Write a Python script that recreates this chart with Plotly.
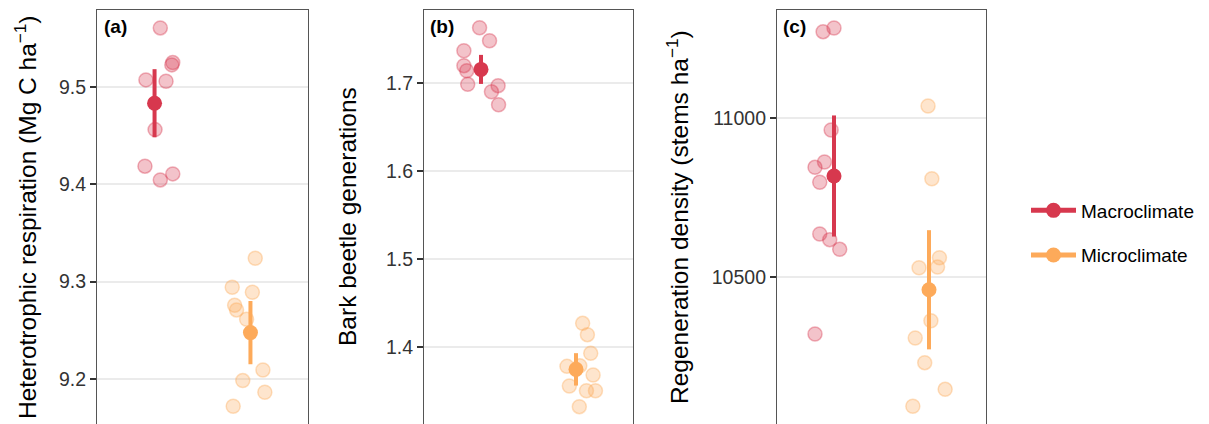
import plotly.graph_objects as go

# ---------------- data ----------------
groups = ["Macroclimate", "Microclimate"]
group_pos = [1, 2]
colors = {"Macroclimate": (215, 56, 78), "Microclimate": (253, 170, 90)}

panel_labels = ["(a)", "(b)", "(c)"]
y_titles = [
    "Heterotrophic respiration (Mg C ha<sup>−1</sup>)",
    "Bark beetle generations",
    "Regeneration density (stems ha<sup>−1</sup>)",
]

# panel (a) Heterotrophic respiration
a_macro_vals = [9.5606, 9.525, 9.5226, 9.5072, 9.5058, 9.4561, 9.4185, 9.4044, 9.4106]
a_macro_jit = [0.06, 0.19, 0.18, -0.09, 0.12, 0.005, -0.10, 0.06, 0.19]
a_micro_vals = [9.3239, 9.2941, 9.289, 9.2756, 9.2708, 9.2612, 9.2091, 9.1982, 9.1862, 9.1718]
a_micro_jit = [0.05, -0.19, 0.02, -0.165, -0.145, -0.04, 0.13, -0.08, 0.15, -0.18]
a_means = [9.4832, 9.2475]
a_err = [0.035, 0.0325]
a_ticks = [9.2, 9.3, 9.4, 9.5]

# panel (b) Bark beetle generations
b_macro_vals = [1.7628, 1.7481, 1.7367, 1.7197, 1.714, 1.6985, 1.697, 1.6901, 1.6753]
b_macro_jit = [-0.015, 0.09, -0.18, -0.18, -0.15, -0.14, 0.18, 0.11, 0.185]
b_micro_vals = [1.4269, 1.414, 1.3928, 1.378, 1.3788, 1.3682, 1.3557, 1.3503, 1.3503, 1.3322]
b_micro_jit = [0.07, 0.12, 0.155, -0.095, 0.04, 0.18, -0.07, 0.11, 0.205, 0.035]
b_means = [1.7155, 1.3746]
b_err = [0.0165, 0.0184]
b_ticks = [1.4, 1.5, 1.6, 1.7]

# panel (c) Regeneration density
c_macro_vals = [11270.8, 11282.4, 10962.3, 10861.9, 10845.3, 10798.3, 10636, 10618.2, 10588, 10322.3]
c_macro_jit = [-0.115, 0.0, -0.03, -0.1, -0.2, -0.15, -0.15, -0.045, 0.06, -0.2]
c_micro_vals = [11037.7, 10809.5, 10561.5, 10530.1, 10532.3, 10363.8, 10309.7, 10232.2, 10148.7, 10095.4]
c_micro_jit = [-0.01, 0.03, 0.11, -0.105, 0.09, 0.02, -0.145, -0.045, 0.17, -0.17]
c_means = [10818, 10461]
c_err = [190, 187]
c_ticks = [10500, 11000]

panels = [
    dict(vals=[a_macro_vals, a_micro_vals], jit=[a_macro_jit, a_micro_jit], means=a_means, err=a_err,
         ticks=a_ticks, yrange=[9.1536, 9.579], fmt=".1f"),
    dict(vals=[b_macro_vals, b_micro_vals], jit=[b_macro_jit, b_micro_jit], means=b_means, err=b_err,
         ticks=b_ticks, yrange=[1.3125, 1.783], fmt=".1f"),
    dict(vals=[c_macro_vals, c_micro_vals], jit=[c_macro_jit, c_micro_jit], means=c_means, err=c_err,
         ticks=c_ticks, yrange=[10039.8, 11338.9], fmt="d"),
]

# ---------------- layout geometry ----------------
W, H = 1209, 424
x_domains_px = [(97, 308), (424, 633), (777, 986)]
title_x_px = [25, 347, 677]
label_x_px = [102, 428, 781]
top_px = 10

FONT = "Liberation Sans, Arial, Helvetica, sans-serif"


def rgba(c, a):
    return f"rgba({c[0]},{c[1]},{c[2]},{a})"


fig = go.Figure()

for i, p in enumerate(panels):
    ax = "" if i == 0 else str(i + 1)
    xa, ya = "x" + ax, "y" + ax
    # jittered raw points
    for g, gp, vals, jit in zip(groups, group_pos, p["vals"], p["jit"]):
        c = colors[g]
        fig.add_trace(go.Scatter(
            x=[gp + j for j in jit], y=vals, xaxis=xa, yaxis=ya,
            mode="markers", showlegend=False, hoverinfo="skip",
            marker=dict(size=14, color=rgba(c, 0.3), line=dict(color=rgba(c, 0.38), width=1.5)),
        ))
    # means with error bars
    for k, (g, gp) in enumerate(zip(groups, group_pos)):
        c = colors[g]
        fig.add_trace(go.Scatter(
            x=[gp], y=[p["means"][k]], xaxis=xa, yaxis=ya,
            mode="lines+markers", name=g, legendgroup=g, showlegend=(i == 0),
            line=dict(color=rgba(c, 1), width=5),
            marker=dict(size=15, color=rgba(c, 1)),
            error_y=dict(type="data", array=[p["err"][k]], color=rgba(c, 1), thickness=4, width=0),
        ))

    x0, x1 = x_domains_px[i]
    fig.layout["xaxis" + ax] = dict(
        domain=[x0 / W, x1 / W], range=[0.4, 2.6], side="top",
        showline=True, linecolor="#555555", linewidth=1.2, mirror=False,
        showgrid=False, zeroline=False, showticklabels=False, ticks="",
        anchor=ya,
    )
    fig.layout["yaxis" + ax] = dict(
        domain=[0, 1 - top_px / H], range=p["yrange"], anchor=xa,
        tickvals=p["ticks"], tickformat=p["fmt"], ticks="outside", ticklen=6, tickwidth=1.5,
        tickcolor="#333333",
        tickfont=dict(family=FONT, size=19.5, color="#333333"),
        showline=True, linecolor="#555555", linewidth=1.2, mirror=True,
        showgrid=True, gridcolor="#EBEBEB", gridwidth=2, zeroline=False, automargin=False,
    )
    fig.add_annotation(
        text=y_titles[i], textangle=-90, xref="paper", yref="paper",
        x=title_x_px[i] / W, y=(1 - top_px / H) / 2, xanchor="center", yanchor="middle",
        showarrow=False, font=dict(family=FONT, size=24.5, color="#000000"),
    )
    fig.add_annotation(
        text="<b>" + panel_labels[i] + "</b>", xref="paper", yref="paper",
        x=label_x_px[i] / W, y=1 - 26.5 / H, xanchor="left", yanchor="middle",
        showarrow=False, font=dict(family=FONT, size=19, color="#000000"),
    )

fig.update_layout(
    width=W, height=H, margin=dict(l=0, r=0, t=0, b=0),
    paper_bgcolor="white", plot_bgcolor="white",
    legend=dict(x=1026 / W, y=1 - 233 / H, xanchor="left", yanchor="middle",
                font=dict(family=FONT, size=19, color="#000000"),
                traceorder="grouped", tracegroupgap=17, itemwidth=45,
                bgcolor="rgba(0,0,0,0)"),
    showlegend=True,
)

fig.write_html("out.html")
